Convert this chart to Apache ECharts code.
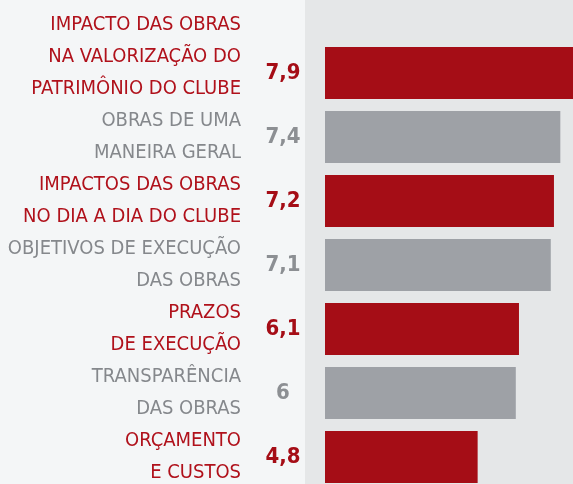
<!DOCTYPE html>
<html>
<head>
<meta charset="utf-8">
<script src="https://cdn.jsdelivr.net/npm/echarts@6/dist/echarts.min.js"></script>
<style>
html, body { margin: 0; padding: 0; }
#chart { width: 573px; height: 484px; }
</style>
</head>
<body>
<div id="chart"></div>
<script>
const categories = [
    'IMPACTO DAS OBRAS\nNA VALORIZAÇÃO DO\nPATRIMÔNIO DO CLUBE\n ',
    'OBRAS DE UMA\nMANEIRA GERAL',
    'IMPACTOS DAS OBRAS\nNO DIA A DIA DO CLUBE',
    'OBJETIVOS DE EXECUÇÃO\nDAS OBRAS',
    'PRAZOS\nDE EXECUÇÃO',
    'TRANSPARÊNCIA\nDAS OBRAS',
    'ORÇAMENTO\nE CUSTOS'
]
const values = [7.9, 7.4, 7.2, 7.1, 6.1, 6, 4.8]

const RED = '#a50d16'
const GREY = '#9ea1a6'
const FONT = "'DejaVu Sans Condensed', 'Liberation Sans Narrow', sans-serif"

function tone(i, red, grey) {
    return i % 2 === 0 ? red : grey
}

let chart = echarts.init(document.getElementById('chart'))

let option = {
    backgroundColor: '#e5e7e8',
    animation: false,
    graphic: [{
        type: 'rect',
        left: 0,
        top: 0,
        z: -10,
        shape: { width: 305, height: 484 },
        style: { fill: '#f4f6f7' }
    }],
    grid: {
        left: 325,
        width: 318,
        top: 41,
        height: 448,
        containLabel: false,
        outerBoundsMode: 'none'
    },
    xAxis: {
        type: 'value',
        min: 0,
        max: 10,
        show: false
    },
    yAxis: {
        type: 'category',
        data: categories,
        inverse: true,
        axisTick: { show: false },
        axisLine: { show: false },
        splitLine: { show: false },
        axisLabel: {
            margin: 84,
            interval: 0,
            hideOverlap: false,
            fontFamily: FONT,
            fontSize: 20,
            lineHeight: 32,
            align: 'right',
            color: (value, index) => tone(index, '#b0111b', '#85888c')
        }
    },
    series: [{
        type: 'bar',
        barWidth: 52,
        data: values.map((v, i) => ({
            value: v,
            itemStyle: { color: tone(i, RED, GREY) },
            label: { color: tone(i, '#a50d16', '#8c8f93') }
        })),
        label: {
            show: true,
            position: [-42, '50%'],
            align: 'center',
            verticalAlign: 'middle',
            fontFamily: FONT,
            fontWeight: 'bold',
            fontSize: 22,
            formatter: p => String(p.value).replace('.', ',')
        }
    }]
}
chart.setOption(option)
</script>
</body>
</html>
